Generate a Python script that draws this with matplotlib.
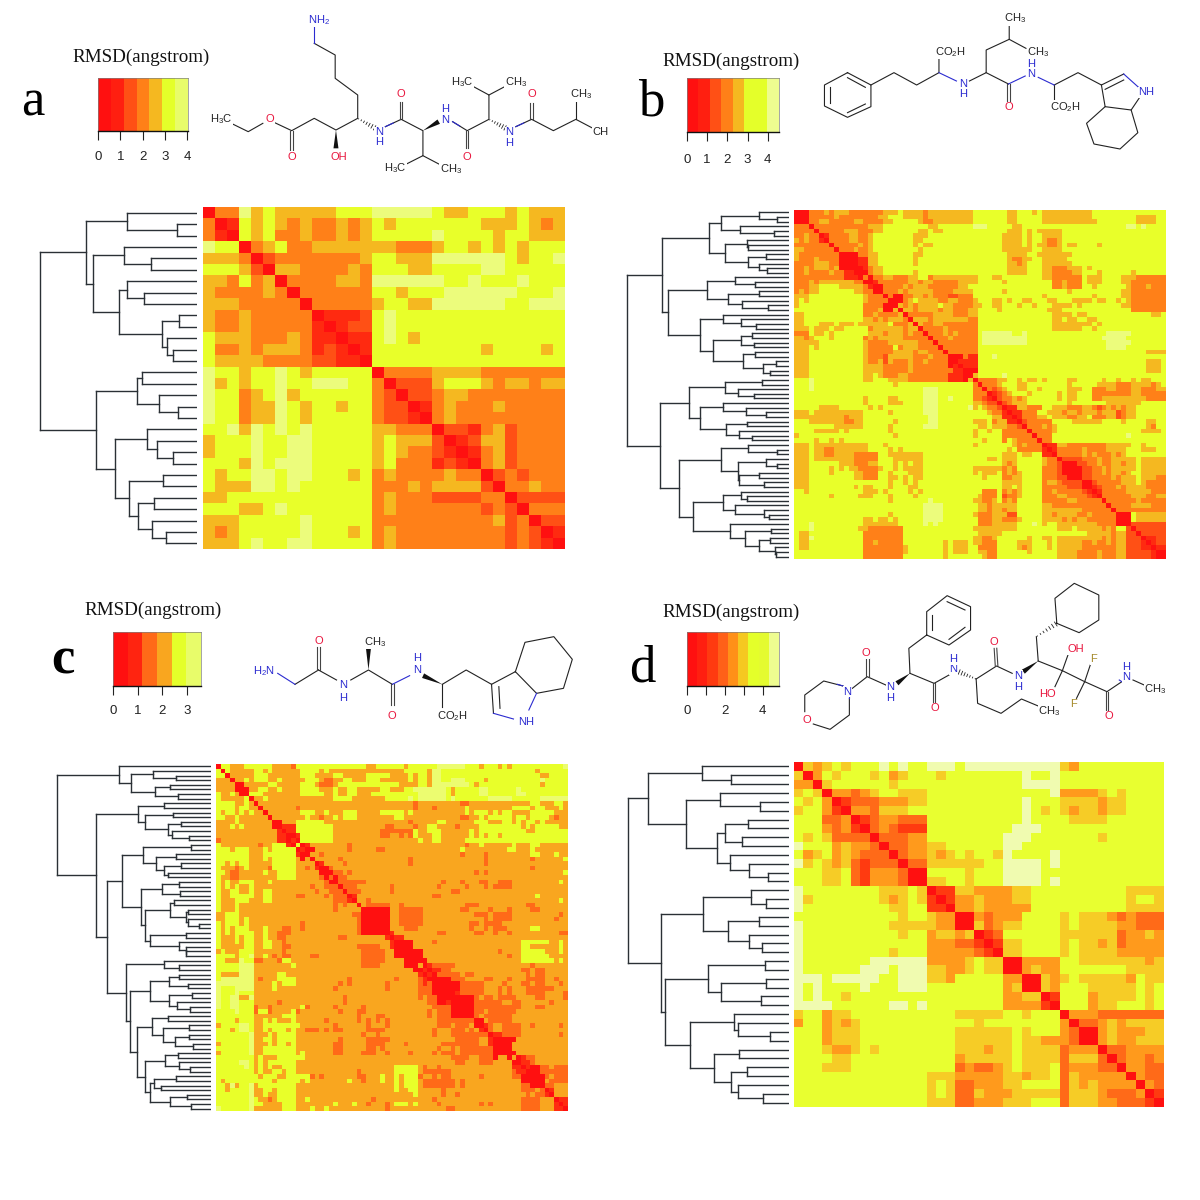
import numpy as np
import matplotlib
matplotlib.use('Agg')
import matplotlib.pyplot as plt
from matplotlib.colors import ListedColormap
plt.rcParams['font.family'] = ['Liberation Sans', 'DejaVu Sans']
plt.rcParams['mathtext.default'] = 'regular'

L = None   # leaf of a dendrogram

# level colours, red -> pale yellow
pal_std = ['#ff1010', '#ff2a10', '#ff5015', '#ff8018', '#f5b820', '#e8ff2a', '#ecfc7c']
pal_c = ['#ff1010', '#ff2c10', '#ff6a18', '#f9a61f', '#e8ff2a', '#ecfc70']
pal_d = ['#ff1010', '#ff3a10', '#ff6a18', '#ff9a1c', '#f6cc26', '#e8ff30', '#f0fbb0']

# colour bars: colours of the bands, top of the scale, ticks
cbar_a = ['#ff1010', '#ff1f10', '#ff5015', '#ff8018', '#f5b820', '#e4ff2a', '#e8fc6a']
cbar_b = ['#ff1010', '#ff1f10', '#ff5015', '#ff8018', '#f5b820', '#e4ff2a', '#e4ff2a', '#eefc90']
cbar_c = ['#ff1010', '#ff2410', '#ff6a18', '#f9a61f', '#e4ff2a', '#e8fc6a']
cbar_d = ['#ff1010', '#ff1f10', '#ff3a10', '#ff6018', '#ff9018', '#f5c820', '#e4ff2a', '#e4fb30', '#eefc90']
vmax_a, vmax_b, vmax_c, vmax_d = 4.04, 4.56, 3.56, 4.87
ticks_a = [0, 1, 2, 3, 4]
ticks_b = [0, 1, 2, 3, 4]
ticks_c = [0, 1, 2, 3]
ticks_d = [0, 1, 2, 3, 4]
ticklabels_d = ['0', '', '2', '', '4']
panel_letters = ['a', 'b', 'c', 'd']
cbar_title = 'RMSD(angstrom)'

# panel a, all rows
rows_a = [
 "033 6 4 5 44444 555 66666 5 44 555 4 5 444",
 "3 01 5 4 5 4 3 4 33 4 3 4 5 4 5555555 444 5 4 3 4",
 "3 10 5 4 5 33 4 33 4 3 4 55555 6 5555 4 55 444",
 "6 55 0 3 4 5 33 4444444 333 4 55 4 5 4 5 4 555",
 "444 3 0 2 3333333 4 55 444 666666 5 4 55 6",
 "555 4 2 0 44 3333 4 3 555 44 5555 66 55555",
 "44 3 5 3 4 0 3333 44 3 666666 55 6 555 6 555",
 "4 3333 4 3 0 333333 55 4 555 666666 555 6",
 "444 33333 0 33333 4 55 44 666666 55 666",
 "4 33 4 33333 0 111 2 5 6 55555555555555",
 "4 33 4 33333 1 0 1 22 5 6 55555555555555",
 "5 444 333 4 3 11 0 11 5 6 5 4 555555555555",
 "5 33 4 3 444 3 1 2 1 0 1 555555555 4 5555 4 5",
 "5 4444 3333 22 11 0 5555555555555555",
 "6 55 4 55 6 5 4 55555 0 3333 4444 3333333",
 "6 4 5 4 55 6 55 666 55 3 0 222 4 555 4 3 44 3 44",
 "6 55 3 4 5 6 4 555555 3 2 0 22 3 44 33333333",
 "6 55 3 44 6 5 4 55 4 55 3 22 01 3 4 333 4 33333",
 "6 55 3 44 6 5 4 55555 3 22 10 3 4 333333333",
 "55 6 4 6 5 6 5 6 55555 44 333 0 22 1 3 4 2 3333",
 "4 555 6 55 66 55555 4 5 444 2 0 1 2 44 2 3333",
 "4 555 6 55 66 55555 4 5 4 33 2 1 0 1 3 4 2 3333",
 "555 4 6 5 666 55555 4 5 333 1 2 1 0 3 4 2 3333",
 "5 4 55 66 5 66 555 4 5 3 4 3333 4 33 0 2 3 2 333",
 "5 444 66 5 6 555555 333 4 3 4444 2 0 33 4 33",
 "44 555555555555 3 4 333 2222 33 0 2222",
 "555 44 5 6 5555555 3 4 3333333 2 3 2 0 333",
 "444 55555 6 55555 3333333333 4 2 3 0 22",
 "4 3 4 55555 6 555 4 5 3 4 333333333 2 3 2 0 1",
 "444 5 6 55 66 55555 3 4 333333333 2 3 2 1 0",
]

# panel b, upper triangle, groups of five starting at the column i//5*5
rows_b = [
 "00033 34344 43333 33344 45444 43444 44444 45555 55544 55545 44444 44444 55555 55555 55555",
 "10033 33343 33333 33445 55444 43444 44444 45555 55544 55555 44444 44444 55555 55554 44455",
 "11033 44333 33443 33344 55555 43344 44444 45555 55544 55555 44444 44444 45555 55554 44455",
 "33303 33333 33333 44455 55555 55445 55555 56665 55554 45555 55555 55555 55555 55665 65555",
 "33330 33333 44433 34455 55555 44544 55555 55555 55544 45454 44445 55555 55555 55555 55555",
 "01333 34433 45555 55554 44555 55555 55555 55444 45455 44445 55555 55555 55555 55555",
 "30333 34433 45555 55554 45555 55555 55555 55444 45455 43345 55555 55555 55555 55555",
 "33033 33343 45555 55554 54455 55555 55555 55444 45454 43345 44555 54555 55555 55555",
 "33303 33433 45555 55555 45555 55555 55555 55444 44455 44445 55555 55555 55555 55555",
 "33330 00033 44555 55554 45555 55555 55555 55544 44554 44444 45555 55555 55555 55555",
 "00011 44555 55554 55555 55555 55555 55543 34455 44444 55555 55555 55555 55555",
 "00011 44555 55554 55555 55555 55555 55544 34555 44444 45555 55555 55555 55555",
 "10001 34455 55555 55555 55555 55555 55544 44555 44333 44454 55555 55555 55555",
 "11000 34455 55554 55555 55555 55555 55544 44555 44333 34455 54555 55545 55555",
 "33443 03344 33344 55344 44444 44555 44555 55555 44333 33354 44555 54443 33333",
 "01333 33344 34433 33344 44555 55455 55555 55334 33354 44555 54433 33333",
 "30033 33434 44333 33344 55555 55555 55555 55334 33355 45555 55433 34333",
 "30033 34344 44433 33444 45555 55455 55555 55555 45555 55555 54433 33333",
 "33003 00334 43433 32233 35555 55555 55555 45555 55555 45555 54433 33333",
 "33330 00345 44443 34433 34555 44545 54455 54455 54444 54455 45433 33333",
 "04343 44445 44333 34455 44555 45545 55444 45455 55555 54433 33333",
 "30443 44443 44333 44555 54555 55555 54445 55555 55555 55533 33333",
 "33033 33344 44333 44555 55555 55555 55444 45445 55555 55555 55445",
 "33304 44344 44444 33555 55555 55555 55445 44554 45555 55555 55555",
 "44330 43344 33333 33555 55555 55555 55444 44444 54555 55555 55555",
 "03333 43333 33555 55555 55555 55444 44455 45555 55555 55555",
 "30333 43433 33566 66665 56555 55555 55555 55566 66655 55555",
 "33033 34333 33566 66666 66555 55555 55555 55666 66555 55555",
 "33303 33333 33566 66666 66555 55555 55555 55566 66655 55555",
 "33330 33333 33555 55555 55555 55555 55555 55566 66555 55555",
 "03333 33555 55555 55555 55555 55555 55555 55555 54444",
 "30003 11555 65555 55555 55555 55555 55555 55555 55555",
 "30011 11555 55555 55555 55555 55555 55555 55555 54445",
 "30101 11555 55555 55555 55555 55555 55555 55555 54445",
 "33110 00555 55555 55555 55555 55555 55555 55555 54445",
 "04555 55655 55555 55555 55555 55555 55555 55555",
 "50333 34455 45445 45555 44555 55455 45545 44555",
 "53033 34555 44555 55555 45555 54444 33344 44345",
 "53303 23455 44554 55555 44455 33344 33344 33344",
 "53330 12345 55455 55545 44555 33333 33344 33333",
 "02334 34555 55545 44555 33444 44444 43333",
 "20234 44555 55555 45555 55544 44444 55555",
 "32011 44333 55444 33344 32343 43445 55555",
 "43101 13335 54443 44344 43444 23445 55555",
 "44110 13334 45444 33445 33344 23445 55555",
 "02333 33555 54444 44555 54555 54455",
 "20333 43455 55555 55555 55555 54355",
 "33033 33455 55555 55555 55555 44445",
 "33303 33555 55555 55555 55655 55555",
 "33330 33555 55555 55555 55555 55555",
 "01144 33333 33344 44455 45555",
 "10133 33343 33344 44555 44455",
 "11033 33343 43334 34555 55555",
 "33302 22233 34334 44445 44444",
 "33320 00223 34334 43445 44444",
 "00022 33434 44445 44444",
 "00022 33434 43455 44444",
 "20022 33334 34445 44433",
 "22200 23333 34445 43333",
 "22200 12333 43444 43333",
 "01333 33444 44333",
 "10333 33344 43344",
 "33033 33334 33333",
 "33303 33344 44333",
 "33330 33333 33333",
 "00054 44444",
 "00054 44444",
 "55022 22222",
 "55502 22222",
 "44420 22222",
 "01122",
 "10122",
 "11011",
 "22100",
 "22100",
]

# panel c, same layout as b
rows_c = [
 "04433 34444 44333 32444 44444 44444 44334 44444 34444 44555 55544 43444 34344 44444 44445",
 "40433 33344 34333 33344 44343 33333 33333 33333 44444 35544 44444 44444 44444 44434 44444",
 "34033 33344 43333 33344 43333 44333 33444 44333 34344 35544 44444 44444 44444 44443 34444",
 "33303 34344 43343 33334 44322 33443 33444 33333 34344 35544 55544 44344 44444 44445 44444",
 "33330 03333 34433 33344 43222 34444 44444 44443 33344 35555 55554 34444 44444 44443 44444",
 "00334 43343 33344 44333 43344 33333 44333 44555 55554 34444 45544 44445 44444 44444",
 "00444 33333 33344 44433 43344 33344 44444 44455 55554 34444 45544 44445 54444 44444",
 "33033 43333 33333 33333 44443 33333 34444 45455 55554 54444 44455 55544 44445 55555",
 "33303 33333 33333 33333 33333 33333 33333 33233 33333 33223 33333 33333 33443 33443",
 "33330 33333 33233 33333 33333 33333 33333 33233 32333 33343 33333 33344 44344 33343",
 "03333 33344 43343 33444 33333 44444 34333 33333 33343 44434 34433 33444 44333",
 "30333 33334 33233 43444 33333 33344 33333 33333 33223 34344 44434 43444 43233",
 "33003 33444 44433 33333 33333 33333 32333 33443 33333 44433 34434 34434 33333",
 "33301 11444 44444 33333 33333 32233 33233 44333 32333 34444 44444 34344 44433",
 "33310 11444 44444 33333 33333 22222 22433 44433 33334 34444 44444 43344 44444",
 "00144 44444 33333 33333 22332 32433 34433 33334 34344 34444 44444 44444",
 "11044 44444 33333 33333 33333 33343 34433 33344 44444 44444 44444 44444",
 "44401 33333 33323 33333 33333 33333 33333 33323 34333 33343 33443 33333",
 "44410 03333 33323 33332 23333 33333 33333 33433 33333 33443 33433 33333",
 "44400 33233 33333 33333 33333 33333 33333 33233 33233 33333 33443 33433",
 "03333 32333 33333 33333 32333 33333 33333 33233 33333 33233 33334",
 "30133 33233 33333 33333 32333 33333 33333 33233 33333 33333 33333",
 "33002 33333 33333 33333 33333 33333 33333 33333 33333 33233 33333",
 "33300 22323 33333 33333 33333 33333 33333 23233 33333 33333 33334",
 "33322 02233 33333 33333 33333 33333 33333 33333 33333 33333 33333",
 "02222 22333 33333 33333 33323 33233 32233 22233 33333 33343",
 "20222 33333 33233 33333 33233 33323 33232 22233 33333 33333",
 "22022 23333 33233 33333 33333 22333 33333 33333 33333 33333",
 "22201 33333 33333 33333 32233 33333 33333 33333 33343 33333",
 "22210 33233 33333 33333 33333 33333 33333 33333 33333 33343",
 "03222 22332 33333 33333 33322 23333 33333 32233 33333",
 "30000 00332 22223 33333 33223 33323 33233 33223 33333",
 "20000 00332 22223 33333 33333 22232 22233 33333 33323",
 "20000 00332 22223 33333 33333 33232 22233 33333 33233",
 "20000 00332 22223 33333 33332 23222 23333 33333 33333",
 "00333 22233 33333 33332 33232 22333 33443 33333",
 "30133 33333 33223 33333 22332 33233 33333 33322",
 "33011 33333 33333 33333 33333 33333 33333 33333",
 "33100 00333 32333 33333 33333 33333 44444 43343",
 "33300 00333 33333 33333 33333 33333 44333 33343",
 "00003 33333 33333 33333 23333 44444 33343",
 "00003 33333 33333 33333 33233 44444 43333",
 "00000 33333 33333 33333 33333 44444 44343",
 "33330 12222 23333 33333 33333 33233 33333",
 "33331 01122 33333 33333 33333 22322 33333",
 "10222 22322 33333 33333 32322 33333",
 "20000 22233 33223 33233 32222 33233",
 "22000 00222 22333 32333 22322 33323",
 "22000 00222 22333 23233 32222 22333",
 "22000 01222 22333 23233 32222 33332",
 "00000 23223 22223 33322 33332",
 "00000 22222 23322 33333 32333",
 "00000 22222 22222 33322 33333",
 "00000 22322 22223 33333 33333",
 "00000 23222 22233 33333 33333",
 "00322 22233 33333 33333",
 "30123 32222 33233 33323",
 "31023 32222 33333 33333",
 "22201 12222 33333 33323",
 "23310 00003 33333 33333",
 "00033 33333 33333",
 "00033 33333 33333",
 "00003 33333 33333",
 "33330 12233 33333",
 "33310 11233 33333",
 "01002 23222",
 "10002 22222",
 "00000 23222",
 "00000 32222",
 "22200 22333",
 "01333",
 "10333",
 "33011",
 "33101",
 "33110",
]

# panel d, upper triangle, each row starts on the diagonal
rows_d = [
 "0 4 3 4 5 4 555 6 5 6 55 666 5 6666666666 4 3 555555555",
 "0 3 5 4 555 4 5 3 4 555 4 55555555 6 55 6 55555555555",
 "0 4 555555 4 5555555555555 6666 55555555555",
 "0 33 2 3 4 55 444 5555555555555 6 3333 4 5 4 5555",
 "0 1 22 2 333 44 5555555555 6 555 4444 3 44 5555",
 "0 33 2 444 555555555555 6 5 4 5 4 3 44 3 44 5555",
 "0 1 2 33 222 5555555555 6 5555 4444 555555",
 "0 2 3 2 111 555555555 666 5555555555555",
 "0 22 2 33 55555555 666 5555555 4 555555",
 "0 22 33 44 555555 66 555555555555555",
 "0 2 33 4 3 4 5 4 55 4 6 5555 6 55555555555",
 "0 22 444444 55 6 666 5 6 55555555555",
 "0 0 5555 4 555 6666 5555555555555",
 "0 44 55 4 555 6666 5 6 55555555555",
 "0 11 44 3333 44 5555555555 4444",
 "0 1 33 4 333 44 5555555555 4 55 4",
 "0 33 4 33333 5555555555 4 444",
 "00 3 2 333 5555 4 5 444 3 2 3 222",
 "0 4 2 3 44 5555 4 5 4444 33 222",
 "0 1 2 555555 44 4444 2 33 4 3",
 "0 1 44 5555 4 5 44 3 4 2 3333",
 "0 44 5555 4 5 4444 33333",
 "00 3333 55 4444 444 3 4",
 "0 3 4 3 3 55 55555 44 44",
 "00 4 3 4 5 44 444 3 5 44",
 "0 4 3 555 44444 5 4 5",
 "0 1 555 3 4 444 5 4 5",
 "0 555 3 44 55 5 4 5",
 "0 333 2222222",
 "0 22 3 4 3 4444",
 "0 0 3 4 333 44",
 "0 3 4 33 444",
 "0 2 2 3333",
 "0 2 33 2 3",
 "0 3 3 2 2",
 "0 3 2 2",
 "0 3 2",
 "0 1",
 "0",
]

# dendrograms: (position of the merge, upper child, lower child)
tree_a = (108,
    (232,
        (343, L, (479, L, L)),
        (250,
            (335, L, (407, L, L)),
            (320,
                (344, L, (388, L, L)),
                (437, (484, L, L), (452, L, (468, L, L)))))),
    (260,
        (370, (383, L, L), (430, L, (480, L, L))),
        (310,
            (398, L, (424, L, (468, L, L))),
            (349,
                (440, L, L),
                (373, (415, L, L), (411, L, (448, L, L)))))))

tree_b = (48,
    (143,
        (273,
            (306, (408, L, (458, L, L)), (356, L, (450, L, L))),
            (317, (375, L, (380, L, L)), (380, (428, L, L), (410, L, (430, L, L))))),
        (160,
            (267, (342, L, (397, L, L)), (325, (408, L, L), (362, L, (435, L, L)))),
            (248,
                (310, L, (360, L, (402, L, L))),
                (284,
                    (360, (390, L, L), (395, L, L)),
                    (365, (398, L, L), (420, (455, L, L), (440, L, L))))))),
    (138,
        (218,
            (316, (418, L, L), (352, L, (395, L, L))),
            (246,
                (310, L, (372, L, (428, L, L))),
                (318, (375, L, L), (355, L, (390, L, L))))),
        (190,
            (304,
                (380, L, (458, L, L)),
                (350, (428, L, (458, L, L)), (355, (408, L, L), (422, L, L)))),
            (228,
                (310, (360, L, (376, L, L)), (342, L, (422, L, (436, L, L)))),
                (330, L, (370, (442, L, L), (408, (440, L, L), (452, L, (455, L, L)))))))))

tree_c = (48,
    (230, L, (264, (328, L, (393, L, L)), (333, (378, L, L), (400, L, L)))),
    (163,
        (284, (360, L, L), (305, (385, L, L), (372, (410, L, L), (382, L, (432, L, L))))),
        (193,
            (237,
                (300, (438, L, L), (337, (395, L, L), (360, (410, L, L), (372, L, L)))),
                (292,
                    (355, (402, L, L), (405, L, L)),
                    (305,
                        (378, (388, L, L), (422, (428, L, L), (428, L, (462, L, L)))),
                        (318, (422, L, L), (402, L, (422, L, (424, L, L))))))),
            (248,
                (360, L, (402, L, L)),
                (262,
                    (318,
                        (375, (402, L, L), (428, L, L)),
                        (375, (440, L, L), (398, L, (436, L, L)))),
                    (282,
                        (325, (372, L, L), (358, (432, L, L), (392, (432, L, L), (445, L, L)))),
                        (305,
                            (362, (400, L, L), (402, L, (435, L, L))),
                            (320,
                                (332, (395, L, L), (352, L, L)),
                                (378, (425, L, L), (438, L, L))))))))))

tree_d = (22,
    (78,
        (230, L, (310, L, L)),
        (186,
            (281, L, (393, L, L)),
            (271,
                (293, (358, L, L), (342, L, L)),
                (308, L, (362, L, (415, L, L)))))),
    (115,
        (232,
            (368, L, (410, L, L)),
            (303, (390, L, L), (360, L, (397, L, L)))),
        (125,
            (247, (407, L, L), (284, (410, L, L), (395, L, L))),
            (197,
                (318, L, (330, L, (420, L, L))),
                (262, (332, L, L), (310, (355, L, L), (330, L, (400, L, L))))))))

# molecule a
mol_a_bonds = [
    [(795,130),(848,165),(848,235),(905,285),(905,355),(850,390),(795,355),(738,392),(695,368)],
    [(665,370),(628,395),(585,370)],
    [(975,380),(1015,358),(1070,392),(1070,467),(1015,500)],
    [(1070,467),(1115,495)],
    [(1145,365),(1182,392),(1237,358),(1237,285),(1195,258)],
    [(1237,285),(1280,258)],
    [(1305,380),(1345,358),(1400,392),(1457,358),(1497,383)],
    [(1457,358),(1457,305)],
]
mol_a_blue = [[(795,80),(795,130)], [(975,380),(995,369)], [(1145,365),(1163,378)], [(1305,380),(1325,369)]]
mol_a_double = [(738,392,738,450), (1015,358,1015,305), (1182,392,1182,445), (1345,358,1345,310)]
mol_a_wedge = [(850,390,850,445), (1070,392,1110,365)]
mol_a_hash = [(905,355,950,385), (1237,358,1280,385)]
mol_a_text = [
    (808,60,'NH$_2$','b'), (683,358,'O','r'), (560,358,'H$_3$C','k'), (738,470,'O','r'), (857,470,'OH','r'),
    (958,397,'N','b'), (958,425,'H','b'), (1014,282,'O','r'), (1125,360,'N','b'), (1125,327,'H','b'),
    (1000,505,'H$_3$C','k'), (1140,507,'CH$_3$','k'), (1180,470,'O','r'), (1170,247,'H$_3$C','k'),
    (1305,247,'CH$_3$','k'), (1288,397,'N','b'), (1288,428,'H','b'), (1345,283,'O','r'),
    (1470,283,'CH$_3$','k'), (1520,397,'CH','k'),
]

# molecule b
mol_b_bonds = [
    [(612,218),(675,255),(675,320),(612,352),(550,318),(550,255),(612,218)],
    [(612,233),(660,262)], [(660,312),(612,338)], [(565,310),(565,262)],
    [(675,255),(737,218),(798,255),(858,218),(858,170)],
    [(940,243),(985,218),(985,150),(1047,118),(1047,75)],
    [(1047,118),(1092,145)],
    [(985,218),(1045,252)],
    [(1168,255),(1232,218),(1295,255),(1355,222)],
    [(1305,268),(1355,240)],
    [(1168,255),(1168,305)],
    [(1398,292),(1375,330),(1305,320),(1295,255)],
    [(1305,320),(1255,370),(1275,432),(1345,447),(1393,398),(1375,330)],
]
mol_b_blue = [[(858,218),(905,243)], [(1045,252),(1090,228)], [(1125,232),(1168,255)], [(1355,222),(1395,262)]]
mol_b_double = [(1045,252,1045,305)]
mol_b_wedge = []
mol_b_hash = []
mol_b_text = [
    (888,155,'CO$_2$H','k'), (922,252,'N','b'), (922,282,'H','b'), (1062,55,'CH$_3$','k'), (1125,157,'CH$_3$','k'),
    (1107,222,'N','b'), (1107,192,'H','b'), (1045,322,'O','r'), (1197,322,'CO$_2$H','k'), (1415,277,'NH','b'),
]

# molecule c
mol_c_bonds = [
    [(767,283),(828,240)],
    [(912,270),(958,240),(1020,283)],
    [(1150,283),(1212,240),(1278,283),(1340,245),(1365,157),(1440,140),(1488,208),(1465,295),(1395,310),(1340,245)],
    [(1150,283),(1150,350)],
    [(1278,283),(1283,370)], [(1297,290),(1300,355)],
    [(828,240),(875,270)],
]
mol_c_blue = [[(722,250),(767,283)], [(1020,283),(1065,257)], [(1283,370),(1335,387)], [(1375,360),(1395,310)]]
mol_c_double = [(828,240,828,170), (1020,283,1020,345)]
mol_c_wedge = [(958,240,958,175), (1150,283,1100,257)]
mol_c_hash = []
mol_c_text = [
    (685,243,'H$_2$N','b'), (828,152,'O','r'), (893,285,'N','b'), (893,325,'H','b'), (975,155,'CH$_3$','k'),
    (1085,240,'N','b'), (1085,205,'H','b'), (1020,377,'O','r'), (1175,378,'CO$_2$H','k'), (1368,395,'NH','b'),
]

# molecule d
mol_d_bonds = [
    [(600,318),(548,303),(497,345),(497,395)],
    [(520,432),(565,448),(617,405),(617,355)],
    [(625,325),(665,290),(715,315)],
    [(780,280),(777,205),(825,165),(825,95),(880,47),(943,80),(943,150),(885,195),(825,165)],
    [(840,150),(840,105)], [(880,65),(928,90)], [(928,142),(885,178)],
    [(780,280),(845,310),(885,285)],
    [(958,297),(1013,258),(1055,280)],
    [(958,297),(962,370),(1025,400),(1080,357),(1125,378)],
    [(1125,243),(1120,170)],
    [(1175,130),(1170,55),(1222,10),(1288,45),(1288,120),(1235,158),(1175,130)],
    [(1125,243),(1190,272),(1250,305),(1310,335),(1350,305)],
    [(1190,272),(1205,225)], [(1190,272),(1170,320)],
    [(1250,305),(1265,255)], [(1250,305),(1228,355)],
    [(1380,300),(1410,315)],
]
mol_d_blue = [[(617,355),(617,345)], [(600,318),(585,313)], [(1350,305),(1343,300)]]
mol_d_double = [(665,290,665,235), (845,310,845,365), (1013,258,1010,205), (1310,335,1310,390)]
mol_d_wedge = [(780,280,745,310), (1125,243,1085,275)]
mol_d_hash = [(958,297,910,275), (1120,170,1175,130)]
mol_d_text = [
    (612,335,'N','b'), (503,420,'O','r'), (660,220,'O','r'), (727,322,'N','b'), (727,355,'H','b'),
    (848,385,'O','r'), (897,268,'N','b'), (897,238,'H','b'), (1005,185,'O','r'), (1072,287,'N','b'), (1072,320,'H','b'),
    (1155,392,'CH$_3$','k'), (1225,208,'OH','r'), (1150,342,'HO','r'), (1275,238,'F','f'), (1220,372,'F','f'),
    (1315,408,'O','r'), (1362,292,'N','b'), (1362,260,'H','b'), (1440,328,'CH$_3$','k'),
]

text_colors = {'k': '#222222', 'b': '#2b2bd0', 'r': '#e8143c', 'f': '#a58a2a'}

fig = plt.figure(figsize=(12, 12), dpi=100)
fig.patch.set_facecolor('white')


def px_axes(x0, y0, x1, y1):
    return fig.add_axes([x0 / 1200, 1 - y1 / 1200, (x1 - x0) / 1200, (y1 - y0) / 1200])


def full_matrix(rows):
    m = []
    for r in rows:
        m.append([int(c) for c in r.replace(' ', '')])
    return np.array(m)


def sym_matrix(rows, n, group=True):
    m = np.full((n, n), -1)
    for i, r in enumerate(rows):
        s = r.replace(' ', '')
        start = i // 5 * 5 if group else i
        if len(s) != n - start:
            print('row', i, 'has', len(s), 'wanted', n - start)
        for k, c in enumerate(s):
            j = start + k
            if j >= i and j < n:
                m[i, j] = int(c)
                m[j, i] = int(c)
    return m


def draw_heat(m, pal, box):
    ax = px_axes(*box)
    ax.imshow(m, cmap=ListedColormap(pal), vmin=-0.5, vmax=len(pal) - 0.5, aspect='auto', interpolation='nearest')
    ax.axis('off')


def walk(ax, node, counter):
    if node is None:
        y = counter[0] + 0.5
        counter[0] += 1
        return None, y
    x, a, b = node
    xa, ya = walk(ax, a, counter)
    xb, yb = walk(ax, b, counter)
    end = ax.get_xlim()[1]
    ax.plot([x, end if xa is None else xa], [ya, ya], color='#2a3035', lw=1.0, solid_capstyle='projecting')
    ax.plot([x, end if xb is None else xb], [yb, yb], color='#2a3035', lw=1.0, solid_capstyle='projecting')
    ax.plot([x, x], [ya, yb], color='#2a3035', lw=1.0, solid_capstyle='projecting')
    return x, (ya + yb) / 2


def draw_tree(tree, n, crop_x, kx, leaf_end, y0, y1):
    ax = px_axes(crop_x, y0, crop_x + leaf_end / kx, y1)
    ax.set_xlim(0, leaf_end)
    ax.set_ylim(n, 0)
    ax.axis('off')
    walk(ax, tree, [0])


def draw_cbar(colors, vmax, ticks, labels, box, title_xy, labelpad):
    ax = px_axes(*box)
    ax.imshow(np.arange(len(colors))[None, :], cmap=ListedColormap(colors), aspect='auto',
              extent=(0, vmax, 0, 1), interpolation='nearest')
    ax.set_yticks([])
    ax.set_xticks(ticks)
    ax.set_xticklabels(labels)
    ax.tick_params(axis='x', direction='out', length=6.5, width=0.8, labelsize=9.5, pad=labelpad, colors='#222222')
    for s in ['top', 'left', 'right']:
        ax.spines[s].set_color('#808080')
        ax.spines[s].set_linewidth(0.5)
    ax.spines['bottom'].set_color('#111111')
    ax.spines['bottom'].set_linewidth(1.0)
    over.text(title_xy[0], title_xy[1], cbar_title, family='Liberation Serif', fontsize=13.7,
              ha='center', va='center', color='#111111')


def draw_mol(bonds, blue, double, wedge, hashed, labels, x0, kx, y0):
    def sx(x):
        return x0 + x / kx

    def sy(y):
        return y0 + y / 3

    for poly in bonds:
        over.plot([sx(p[0]) for p in poly], [sy(p[1]) for p in poly], color='#222222', lw=0.8)
    for poly in blue:
        over.plot([sx(p[0]) for p in poly], [sy(p[1]) for p in poly], color='#2b2bd0', lw=0.8)
    for a, b, c, d in double:
        dx, dy = sx(c) - sx(a), sy(d) - sy(b)
        h = np.hypot(dx, dy)
        ox, oy = -dy / h * 1.3, dx / h * 1.3
        for s in [-1, 1]:
            over.plot([sx(a) + s * ox, sx(c) + s * ox], [sy(b) + s * oy, sy(d) + s * oy], color='#444444', lw=0.8)
    for a, b, c, d in wedge:
        dx, dy = sx(c) - sx(a), sy(d) - sy(b)
        h = np.hypot(dx, dy)
        ox, oy = -dy / h * 2.5, dx / h * 2.5
        over.fill([sx(a), sx(c) + ox, sx(c) - ox], [sy(b), sy(d) + oy, sy(d) - oy], color='#111111', lw=0)
    for a, b, c, d in hashed:
        dx, dy = sx(c) - sx(a), sy(d) - sy(b)
        h = np.hypot(dx, dy)
        for t in np.linspace(0.05, 0.95, 7):
            ox, oy = -dy / h * 2.5 * t, dx / h * 2.5 * t
            mx, my = sx(a) + dx * t, sy(b) + dy * t
            over.plot([mx - ox, mx + ox], [my - oy, my + oy], color='#222222', lw=0.6)
    for x, y, s, c in labels:
        over.text(sx(x), sy(y), s, fontsize=8, color=text_colors[c], ha='center', va='center',
                  bbox=dict(fc='white', ec='none', pad=0.3))


# overlay in pixels for the text and the molecules
over = fig.add_axes([0, 0, 1, 1], zorder=5)
over.set_xlim(0, 1200)
over.set_ylim(1200, 0)
over.axis('off')
over.patch.set_alpha(0)

mat_a = full_matrix(rows_a)
mat_b = sym_matrix(rows_b, 75)
mat_c = sym_matrix(rows_c, 75)
mat_d = sym_matrix(rows_d, 39, group=False)

draw_heat(mat_a, pal_std, (203, 207, 565, 549))
draw_heat(mat_b, pal_std, (794, 210, 1166, 559))
draw_heat(mat_c, pal_c, (216, 764, 568, 1111))
draw_heat(mat_d, pal_d, (794, 762, 1164, 1107))

draw_tree(tree_a, 30, 0, 2.7, 533, 207, 549)
draw_tree(tree_b, 75, 610, 2.745, 490, 210, 559)
draw_tree(tree_c, 75, 40, 2.9, 495, 764, 1111)
draw_tree(tree_d, 39, 620, 2.8, 472, 762, 1107)

draw_cbar(cbar_a, vmax_a, ticks_a, [str(t) for t in ticks_a], (98, 78, 188, 131), (141, 57), 8)
draw_cbar(cbar_b, vmax_b, ticks_b, [str(t) for t in ticks_b], (687, 78, 779, 132), (731, 61), 9)
draw_cbar(cbar_c, vmax_c, ticks_c, [str(t) for t in ticks_c], (113, 632, 201, 686), (153, 610), 7.5)
draw_cbar(cbar_d, vmax_d, ticks_d, ticklabels_d, (687, 632, 779, 686), (731, 612), 7.5)

draw_mol(mol_a_bonds, mol_a_blue, mol_a_double, mol_a_wedge, mol_a_hash, mol_a_text, 0, 2.53, 0)
draw_mol(mol_b_bonds, mol_b_blue, mol_b_double, mol_b_wedge, mol_b_hash, mol_b_text, 620, 2.69, 0)
draw_mol(mol_c_bonds, mol_c_blue, mol_c_double, mol_c_wedge, mol_c_hash, mol_c_text, 0, 2.6, 590)
draw_mol(mol_d_bonds, mol_d_blue, mol_d_double, mol_d_wedge, mol_d_hash, mol_d_text, 620, 2.69, 580)

for s, x, y in zip(panel_letters, [33, 651, 63, 642], [103, 103, 660, 668]):
    over.text(x, y, s, family='Liberation Serif', fontsize=38, ha='center', va='center', color='black',
              fontweight='bold' if s == 'c' else 'normal')

fig.savefig('out.png', dpi=100, facecolor='white')
